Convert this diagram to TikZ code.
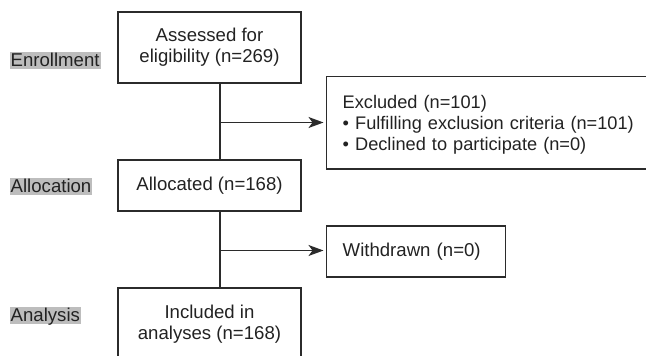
\documentclass[tikz,border=0pt]{standalone}
\usepackage{fontspec}
\setmainfont{Liberation Sans}
\usetikzlibrary{arrows.meta}
\definecolor{ln}{HTML}{2B2B2B}
\definecolor{tx}{HTML}{222222}
\definecolor{lab}{HTML}{BDBDBD}
\begin{document}
\begin{tikzpicture}[x=1pt,y=-1pt,
  every node/.style={font=\fontsize{18.6}{21}\selectfont, text=tx},
  flowbox/.style={draw=ln, line width=1.4pt, inner sep=0pt, align=center},
  stagelab/.style={fill=lab, inner xsep=1pt, inner ysep=1pt, text height=13.5pt, text depth=1.5pt, anchor=west},
  conn/.style={draw=ln, line width=1.4pt},
  arr/.style={conn, shorten >=2.5pt, -{Stealth[length=15pt,width=11pt,inset=4pt]}}]
\useasboundingbox (0,0) rectangle (646,356);
\clip (0,0) rectangle (646,356);
\node[flowbox, minimum width=183pt, minimum height=71pt] (assess) at (209.5,47.5) {Assessed for\\eligibility (n=269)};
\node[flowbox, minimum width=324pt, minimum height=92.5pt, anchor=west, text width=310pt, inner xsep=16pt, align=left, font=\fontsize{18.2}{21}\selectfont] (excl) at (326,122.75) {\rule{0pt}{17pt}Excluded (n=101)\\• Fulfilling exclusion criteria (n=101)\\• Declined to participate (n=0)};
\node[flowbox, minimum width=183pt, minimum height=51pt] (alloc) at (209.5,185.5) {Allocated (n=168)};
\node[flowbox, minimum width=179pt, minimum height=51pt, anchor=west, text width=147pt, inner xsep=16pt, align=left] (withd) at (326,251.5) {Withdrawn (n=0)};
\node[flowbox, minimum width=183pt, minimum height=72pt] (incl) at (209.5,324) {Included in\\analyses (n=168)};
\node[stagelab] (lenr) at (9.5,60.5) {Enrollment};
\node[stagelab] (lall) at (9.5,186) {Allocation};
\node[stagelab] (lana) at (9.5,315) {Analysis};
\coordinate (j1) at (220,122.5);
\coordinate (j2) at (220,250.5);
\draw[conn] (assess.south -| j1) -- (alloc.north -| j1);
\draw[conn] (alloc.south -| j2) -- (incl.north -| j2);
\draw[arr] (j1) -- (j1 -| excl.west);
\draw[arr] (j2) -- (j2 -| withd.west);
\end{tikzpicture}
\end{document}
